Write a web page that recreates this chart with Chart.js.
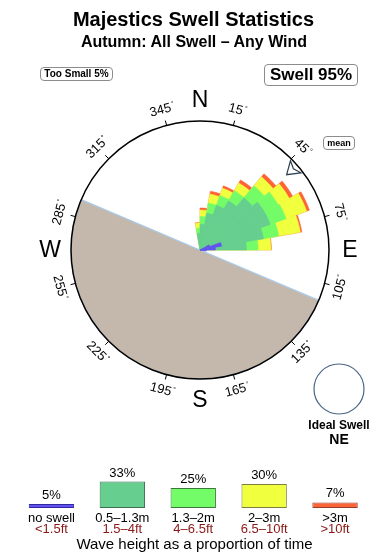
<!DOCTYPE html>
<html>
<head>
<meta charset="utf-8">
<script src="https://cdn.jsdelivr.net/npm/chart.js@4.4.1/dist/chart.umd.min.js"></script>
<style>
  body { margin: 0; background: #fff; font-family: "Liberation Sans", Arial, sans-serif; }
  #page { position: relative; width: 390px; height: 560px; overflow: hidden; }
  canvas { position: absolute; left: 0; }
  .txt { position: absolute; text-align: center; color: #000; white-space: nowrap; }
  .box { position: absolute; box-sizing: border-box; border: 1px solid #8c8c8c; border-radius: 4px;
         text-align: center; font-weight: bold; background: #fff; white-space: nowrap; }
</style>
</head>
<body>
<div id="page">
  <canvas id="rose" width="390" height="460" style="top:0"></canvas>
  <canvas id="legend" width="390" height="100" style="top:460px"></canvas>
  <div class="txt" id="title" style="left:0;width:387px;top:7px;font:bold 20px/24px 'Liberation Sans'"></div>
  <div class="txt" id="subtitle" style="left:0;width:388px;top:32px;font:bold 16px/20px 'Liberation Sans'"></div>
  <div class="box" id="tooSmall" style="left:40px;top:67px;width:73px;height:14px;font-size:10px;line-height:12px"></div>
  <div class="box" id="swell" style="left:264px;top:64px;width:94px;height:22px;font-size:17px;line-height:20px"></div>
  <div class="box" style="left:323px;top:136px;width:32px;height:14px;font-size:9px;line-height:12px">mean</div>
  <div class="txt" style="left:289px;width:100px;top:417px;font:bold 12px/16px 'Liberation Sans'">Ideal Swell</div>
  <div class="txt" id="ideal" style="left:289px;width:100px;top:430px;font:bold 14px/18px 'Liberation Sans'"></div>
  <div class="txt" id="footer" style="left:0;width:389px;top:535px;font:15px/18px 'Liberation Sans'"></div>
</div>
<script>
const title = 'Majestics Swell Statistics';
const subtitle = 'Autumn: All Swell \u2013 Any Wind';
const tooSmallPct = 5;
const swellPct = 95;
const idealSwell = 'NE';
const meanDirection = 49;

// swell rose: 10 degree bins, named by start bearing
const directions = [350, 0, 10, 20, 30, 40, 50, 60, 70, 80, 90];
// length of each height band in a bin (circle = 100)
const noSwell   = [0, 0, 0, 0, 0, 0, 0, 8, 17, 12, 5];
const band05_13 = [13, 20, 29, 37, 44, 53, 58, 58, 50, 36, 0];
const band13_2  = [4, 6, 8, 8, 9, 12, 12, 13, 12, 9, 0];
const band2_3   = [4, 5, 7, 6, 7, 9, 10, 17, 17, 10, 0];
const band3up   = [0.4, 1.6, 2.3, 1.9, 2.7, 3.1, 3.1, 2.3, 1.2, 0.4, 0];

// land shadow, bearings
const landFrom = 113;
const landTo = 293;

const bearingTicks = [15, 45, 75, 105, 135, 165, 195, 225, 255, 285, 315, 345];
const cardinals = ['N', 'E', 'S', 'W'];

// legend
const legendPct = [5, 33, 25, 30, 7];
const legendMetric = ['no swell', '0.5\u20131.3m', '1.3\u20132m', '2\u20133m', '>3m'];
const legendFeet = ['<1.5ft', '1.5\u20134ft', '4\u20136.5ft', '6.5\u201310ft', '>10ft'];

const fills = ['rgb(98,82,242)', 'rgb(102,206,142)', 'rgb(116,252,104)', 'rgb(240,255,62)', 'rgb(255,98,52)'];
const edges = ['rgb(50,40,160)', 'rgb(60,110,80)', 'rgb(60,120,60)', 'rgb(125,125,60)', 'rgb(150,60,40)'];
const landColor = '#c4b8ac';
const landEdge = '#a9cbe9';

document.getElementById('title').textContent = title;
document.getElementById('subtitle').textContent = subtitle;
document.getElementById('tooSmall').textContent = 'Too Small ' + tooSmallPct + '%';
document.getElementById('swell').textContent = 'Swell ' + swellPct + '%';
document.getElementById('ideal').textContent = idealSwell;
document.getElementById('footer').textContent = 'Wave height as a proportion of time';

let binLabels = [];
for (let b = 0; b < 360; b += 10) binLabels.push(b + '\u00b0');

function toBins(values) {
  let out = new Array(36).fill(0);
  directions.forEach((d, i) => { out[d / 10] = values[i]; });
  return out;
}

// cumulative radii for the stacked bands
let running = new Array(directions.length).fill(0);
let stacked = [band05_13, band13_2, band2_3, band3up].map(band => {
  running = running.map((v, i) => v + band[i]);
  return toBins(running);
});

let landAngles = [landFrom, landTo - landFrom, 360 - landTo];

let roseDatasets = [{
  label: legendMetric[0],
  data: toBins(noSwell),
  backgroundColor: fills[0],
  borderColor: fills[0],
  borderWidth: ctx => ctx.raw > 0 ? 0.5 : 0,
}];
stacked.forEach((d, i) => {
  roseDatasets.push({
    label: legendMetric[i + 1],
    data: d,
    backgroundColor: fills[i + 1],
    borderColor: fills[i + 1],
    borderWidth: ctx => ctx.raw > 0 ? 0.5 : 0,
  });
});
roseDatasets.push({
  label: 'land',
  data: [0, 100, 0],
  angle: ctx => landAngles[ctx.dataIndex],
  backgroundColor: landColor,
  borderColor: landEdge,
  borderWidth: ctx => ctx.dataIndex === 1 ? 1.2 : 0,
});

function rad(b) { return (b - 90) * Math.PI / 180; }

const compass = {
  id: 'compass',
  afterDraw(chart) {
    const s = chart.scales.r;
    const ctx = chart.ctx;
    const cx = s.xCenter, cy = s.yCenter;
    const R = s.getDistanceFromCenterForValue(100);
    ctx.save();
    ctx.strokeStyle = '#000';
    ctx.fillStyle = '#000';
    ctx.lineWidth = 1;

    bearingTicks.forEach(b => {
      const a = rad(b);
      ctx.beginPath();
      ctx.moveTo(cx + R * Math.cos(a), cy + R * Math.sin(a));
      ctx.lineTo(cx + (R + 5) * Math.cos(a), cy + (R + 5) * Math.sin(a));
      ctx.stroke();

      const rot = (b > 90 && b < 270) ? b - 180 : b;
      ctx.save();
      ctx.translate(cx + (R + 16) * Math.cos(a), cy + (R + 16) * Math.sin(a));
      ctx.rotate(rot * Math.PI / 180);
      ctx.font = '13px "Liberation Sans"';
      const txt = String(b);
      const w = ctx.measureText(txt).width;
      ctx.font = '7px "Liberation Sans"';
      const dw = ctx.measureText('\u00b0').width;
      const x0 = -(w + dw + 1) / 2;
      ctx.textBaseline = 'middle';
      ctx.textAlign = 'left';
      ctx.font = '13px "Liberation Sans"';
      ctx.fillText(txt, x0, 0);
      ctx.font = '7px "Liberation Sans"';
      ctx.fillText('\u00b0', x0 + w + 1, -3);
      ctx.restore();
    });

    ctx.font = '23px "Liberation Sans"';
    ctx.textAlign = 'center';
    ctx.textBaseline = 'middle';
    cardinals.forEach((c, i) => {
      const a = rad(i * 90);
      ctx.fillText(c, cx + 150 * Math.cos(a), cy + 150 * Math.sin(a) + 1);
    });

    // mean direction marker
    const a = rad(meanDirection);
    const tip = s.getDistanceFromCenterForValue(89);
    ctx.save();
    ctx.translate(cx + tip * Math.cos(a), cy + tip * Math.sin(a));
    ctx.rotate(a);
    ctx.beginPath();
    ctx.moveTo(0, 0);
    ctx.lineTo(12, -8);
    ctx.lineTo(9, 0);
    ctx.lineTo(12, 8);
    ctx.closePath();
    ctx.fillStyle = '#fff';
    ctx.fill();
    ctx.strokeStyle = '#2c3e50';
    ctx.lineWidth = 1.2;
    ctx.stroke();
    ctx.restore();

    // ideal swell marker
    ctx.beginPath();
    ctx.arc(339, 389, 25, 0, Math.PI * 2);
    ctx.strokeStyle = '#4a6684';
    ctx.lineWidth = 1.2;
    ctx.stroke();
    ctx.restore();
  }
};

new Chart(document.getElementById('rose'), {
  type: 'polarArea',
  data: { labels: binLabels, datasets: roseDatasets },
  options: {
    responsive: false,
    animation: false,
    events: [],
    layout: { padding: { left: 71, right: 61, top: 121, bottom: 81 } },
    scales: {
      r: {
        min: 0,
        max: 100,
        startAngle: 0,
        ticks: { display: false, stepSize: 100 },
        grid: { circular: true, color: '#000', lineWidth: 1.5, z: 1 },
        angleLines: { display: false },
        pointLabels: { display: false },
      },
    },
    plugins: { legend: { display: false }, tooltip: { enabled: false } },
  },
  plugins: [compass],
});

const legendText = {
  id: 'legendText',
  afterDatasetsDraw(chart) {
    const ctx = chart.ctx;
    ctx.save();
    ctx.textAlign = 'center';
    ctx.textBaseline = 'middle';
    ctx.font = '13px "Liberation Sans"';
    chart.getDatasetMeta(0).data.forEach((bar, i) => {
      const p = bar.getProps(['x', 'y', 'base'], true);
      ctx.fillStyle = '#000';
      ctx.fillText(legendPct[i] + '%', p.x, p.y - 8.5);
      ctx.fillText(legendMetric[i], p.x, p.base + 10.6);
      ctx.fillStyle = '#8b1616';
      ctx.fillText(legendFeet[i], p.x, p.base + 21.3);
    });
    ctx.restore();
  }
};

new Chart(document.getElementById('legend'), {
  type: 'bar',
  data: {
    labels: legendMetric,
    datasets: [{
      data: legendPct,
      backgroundColor: fills,
      borderColor: edges,
      borderWidth: 1,
      borderSkipped: false,
      barPercentage: 0.64,
      categoryPercentage: 1,
    }],
  },
  options: {
    responsive: false,
    animation: false,
    events: [],
    layout: { padding: { left: 16, right: 19.5, top: 8, bottom: 52 } },
    scales: {
      x: { display: false },
      y: { display: false, min: 0, max: 50 },
    },
    plugins: { legend: { display: false }, tooltip: { enabled: false } },
  },
  plugins: [legendText],
});
</script>
</body>
</html>
